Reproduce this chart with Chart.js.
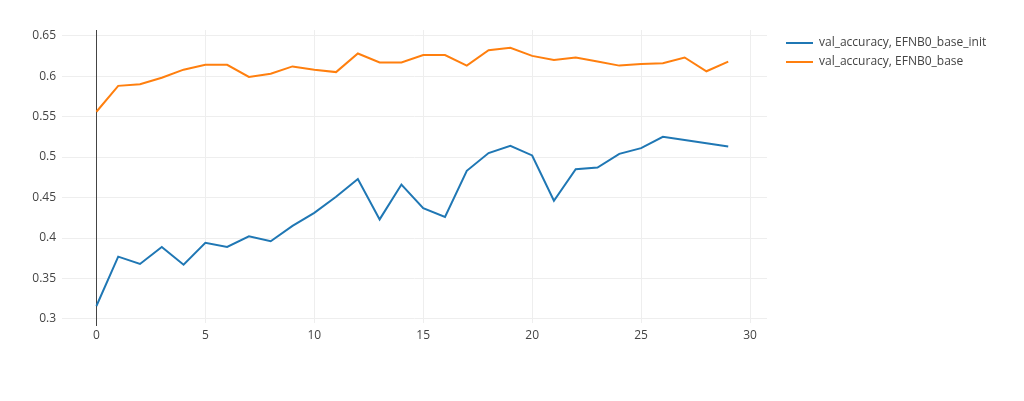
<!DOCTYPE html>
<html>
<head>
<meta charset="utf-8">
<script src="https://cdn.jsdelivr.net/npm/chart.js@4.4.0/dist/chart.umd.min.js"></script>
<style>
  body { margin: 0; background: #fff; }
  #wrap { width: 1024px; height: 401px; }
</style>
</head>
<body>
<div id="wrap"><canvas id="chart" width="1024" height="401"></canvas></div>
<script>
const epochs = Array.from({ length: 30 }, (_, i) => i)

const seriesNames = ["val_accuracy, EFNB0_base_init", "val_accuracy, EFNB0_base"]

const baseInit = [
  0.316, 0.377, 0.368, 0.389, 0.367, 0.394, 0.389, 0.402, 0.396, 0.415,
  0.431, 0.451, 0.473, 0.423, 0.466, 0.437, 0.426, 0.483, 0.505, 0.514,
  0.502, 0.446, 0.485, 0.487, 0.504, 0.511, 0.525, 0.521, 0.517, 0.513,
]

const base = [
  0.556, 0.588, 0.590, 0.598, 0.608, 0.614, 0.614, 0.599, 0.603, 0.612,
  0.608, 0.605, 0.628, 0.617, 0.617, 0.626, 0.626, 0.613, 0.632, 0.635,
  0.625, 0.620, 0.623, 0.618, 0.613, 0.615, 0.616, 0.623, 0.606, 0.618,
]

const xTicks = [0, 5, 10, 15, 20, 25, 30]
const yTicks = [0.3, 0.35, 0.4, 0.45, 0.5, 0.55, 0.6, 0.65]

const colors = ["#1f77b4", "#ff7f0e"]
const fontFamily = "'Open Sans', verdana, arial, sans-serif"

// zero line of the x axis, drawn over the grid but under the traces
const zeroLine = {
  id: "zeroLine",
  beforeDatasetsDraw(chart) {
    const ctx = chart.ctx
    const area = chart.chartArea
    const x = Math.round(chart.scales.x.getPixelForValue(0)) + 0.5
    ctx.save()
    ctx.strokeStyle = "#444"
    ctx.lineWidth = 1
    ctx.beginPath()
    ctx.moveTo(x, area.top)
    ctx.lineTo(x, area.bottom + 3)
    ctx.stroke()
    ctx.restore()
  },
}

// plotly style legend on the right
const sideLegend = {
  id: "sideLegend",
  afterDraw(chart) {
    const ctx = chart.ctx
    ctx.save()
    ctx.font = "12px " + fontFamily
    ctx.textBaseline = "middle"
    chart.data.datasets.forEach((ds, i) => {
      const y = 43 + i * 19
      ctx.strokeStyle = ds.borderColor
      ctx.lineWidth = 2
      ctx.beginPath()
      ctx.moveTo(786, y)
      ctx.lineTo(813, y)
      ctx.stroke()
      ctx.fillStyle = "#444"
      ctx.fillText(ds.label, 819, y)
    })
    ctx.restore()
  },
}

new Chart(document.getElementById("chart").getContext("2d"), {
  type: "line",
  data: {
    labels: epochs,
    datasets: [
      {
        label: seriesNames[0],
        data: epochs.map((e, i) => ({ x: e, y: baseInit[i] })),
        borderColor: colors[0],
        backgroundColor: colors[0],
        borderWidth: 2,
        pointRadius: 0,
        tension: 0,
      },
      {
        label: seriesNames[1],
        data: epochs.map((e, i) => ({ x: e, y: base[i] })),
        borderColor: colors[1],
        backgroundColor: colors[1],
        borderWidth: 2,
        pointRadius: 0,
        tension: 0,
      },
    ],
  },
  options: {
    responsive: false,
    animation: false,
    layout: { padding: { left: 0, right: 257, top: 30, bottom: 0 } },
    plugins: {
      legend: { display: false },
      tooltip: { enabled: false },
    },
    scales: {
      x: {
        type: "linear",
        min: -1.58,
        max: 30.78,
        afterFit: scale => { scale.height = 78 },
        afterBuildTicks: scale => { scale.ticks = xTicks.map(v => ({ value: v })) },
        border: { display: false },
        grid: {
          drawTicks: false,
          color: c => (c.tick && c.tick.value === 0 ? "rgba(0,0,0,0)" : "#eee"),
          lineWidth: 1,
        },
        ticks: {
          padding: 5,
          color: "#444",
          font: { family: fontFamily, size: 12 },
          maxRotation: 0,
        },
      },
      y: {
        min: 0.295,
        max: 0.657,
        afterFit: scale => { scale.width = 62 },
        afterBuildTicks: scale => { scale.ticks = yTicks.map(v => ({ value: v })) },
        border: { display: false },
        grid: { drawTicks: false, color: "#eee", lineWidth: 1 },
        ticks: {
          padding: 6,
          color: "#444",
          font: { family: fontFamily, size: 12 },
          callback: v => String(Number(v.toFixed(2))),
        },
      },
    },
  },
  plugins: [zeroLine, sideLegend],
})
</script>
</body>
</html>
